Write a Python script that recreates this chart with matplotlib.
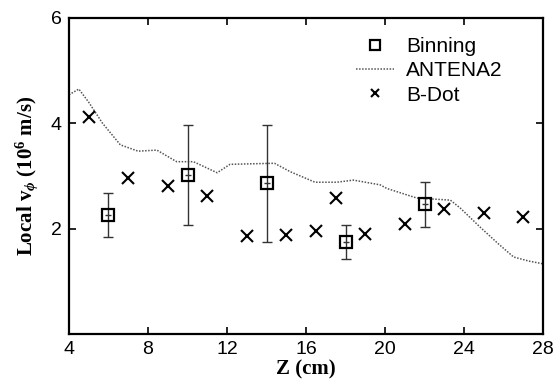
import matplotlib
matplotlib.use("Agg")
import matplotlib.pyplot as plt

plt.rcParams['mathtext.fontset'] = 'custom'
plt.rcParams['mathtext.rm'] = 'Liberation Serif:bold'
plt.rcParams['mathtext.it'] = 'Liberation Serif:italic:bold'
plt.rcParams['mathtext.bf'] = 'Liberation Serif:bold'

# Binning
bin_z = [6, 10, 14, 18, 22]
bin_v = [2.26, 3.01, 2.86, 1.75, 2.47]
bin_lo = [1.84, 2.07, 1.74, 1.42, 2.03]
bin_hi = [2.68, 3.96, 3.97, 2.07, 2.89]

# ANTENA2 model curve
ant_z = [4.0, 4.5, 5.0, 5.7, 6.6, 7.5, 8.45, 9.45, 10.3, 11.5, 12.15, 14.4, 15.2,
         16.45, 17.55, 18.4, 19.75, 20.1, 21.6, 23.3, 23.8, 24.8, 25.7, 26.5, 27.3, 28.0]
ant_v = [4.54, 4.65, 4.4, 4.0, 3.59, 3.47, 3.49, 3.27, 3.27, 3.06, 3.22, 3.24, 3.08,
         2.88, 2.88, 2.92, 2.83, 2.76, 2.58, 2.54, 2.39, 2.03, 1.72, 1.46, 1.38, 1.33]

# B-Dot
bd_z = [5, 7, 9, 11, 13, 15, 16.5, 17.5, 19, 21, 23, 25, 27]
bd_v = [4.12, 2.96, 2.81, 2.62, 1.85, 1.88, 1.96, 2.58, 1.90, 2.09, 2.37, 2.30, 2.22]

fig = plt.figure(figsize=(5.56, 3.82), dpi=100)
ax = fig.add_axes([0.124, 0.126, 0.853, 0.827])

yerr = [[v - l for v, l in zip(bin_v, bin_lo)], [h - v for v, h in zip(bin_v, bin_hi)]]
ax.errorbar(bin_z, bin_v, yerr=yerr, fmt='none', ecolor='#333333', elinewidth=1.0,
            capsize=3.5, capthick=1.0, zorder=2)
ax.plot(bin_z, bin_v, linestyle='none', marker='_', color='#333333', markersize=5,
        markeredgewidth=1.0, zorder=3)
ax.plot(bin_z, bin_v, linestyle='none', marker='s', markerfacecolor='none',
        markeredgecolor='black', markersize=9, markeredgewidth=1.6, label='Binning', zorder=4)
ax.plot(ant_z, ant_v, color='#555555', linewidth=1.1, dashes=(1, 1), label='ANTENA2', zorder=1)
ax.plot(bd_z, bd_v, linestyle='none', marker='x', color='black', markersize=8,
        markeredgewidth=1.5, label='B-Dot', zorder=4)

ax.set_xlim(4, 28)
ax.set_ylim(0, 6)
ax.set_xticks([4, 8, 12, 16, 20, 24, 28])
ax.set_yticks([2, 4, 6])
ax.tick_params(direction='in', length=5, width=1.2, top=True, right=True,
               labelsize=14, pad=5)
for lab in ax.get_xticklabels() + ax.get_yticklabels():
    lab.set_family('Liberation Sans')
for s in ax.spines.values():
    s.set_linewidth(1.6)

ax.set_xlabel('Z (cm)', fontfamily='Liberation Serif', fontweight='bold', fontsize=15, labelpad=1)
ax.set_ylabel(r'Local v$_{\phi}$ (10$^{6}$ m/s)', fontfamily='Liberation Serif',
              fontweight='bold', fontsize=15, labelpad=8)

leg = ax.legend(loc='upper right', bbox_to_anchor=(0.945, 0.985), frameon=False,
                prop={'family': 'Liberation Sans', 'size': 15}, handlelength=1.8,
                handletextpad=0.6, labelspacing=0.25, borderaxespad=0.3, markerscale=0.75)

fig.savefig('out.png', dpi=100)
